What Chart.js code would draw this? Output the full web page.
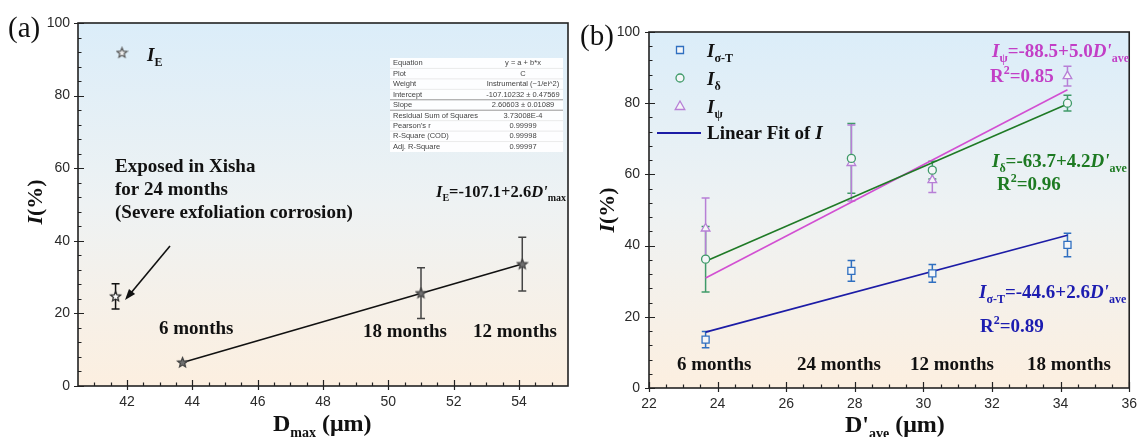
<!DOCTYPE html>
<html><head><meta charset="utf-8">
<script src="https://cdn.jsdelivr.net/npm/chart.js@4.4.1/dist/chart.umd.min.js"></script>
<style>
html,body{margin:0;padding:0;background:#fff;}
body{width:1145px;height:437px;overflow:hidden;position:relative;}
canvas{position:absolute;top:0;}
#ca{left:0;}
#cb{left:575px;}
</style></head>
<body>
<canvas id="ca" width="575" height="437"></canvas>
<canvas id="cb" width="570" height="437"></canvas>
<script>
// ---------- Panel (a) data ----------
const aMonths = ['24 months', '6 months', '18 months', '12 months'];
const aDmax = [41.65, 43.7, 51.0, 54.1];
const aIE = [24.7, 6.5, 25.6, 33.6];
const aErr = [3.5, 0, 7.0, 7.4];
const aFitX = [43.7, 54.1];
const aFitY = [6.5, 33.6];
const aXTicks = [42, 44, 46, 48, 50, 52, 54];
const aYTicks = [0, 20, 40, 60, 80, 100];
const aTableRows = [
  ['Equation', 'y = a + b*x'],
  ['Plot', 'C'],
  ['Weight', 'Instrumental (~1/ei^2)'],
  ['Intercept', '-107.10232 \u00b1 0.47569'],
  ['Slope', '2.60603 \u00b1 0.01089'],
  ['Residual Sum of Squares', '3.73008E-4'],
  ["Pearson's r", '0.99999'],
  ['R-Square (COD)', '0.99998'],
  ['Adj. R-Square', '0.99997']
];

// ---------- Panel (b) data ----------
const bMonths = ['6 months', '24 months', '12 months', '18 months'];
const bDave = [23.65, 27.9, 30.26, 34.2];
const bSigmaT = [13.6, 32.9, 32.2, 40.2];
const bSigmaTErr = [2.3, 2.9, 2.5, 3.3];
const bDelta = [36.2, 64.5, 61.2, 80.0];
const bDeltaErr = [9.2, 9.8, 2.5, 2.2];
const bPsi = [44.8, 63.2, 58.4, 87.6];
const bPsiErr = [8.6, 10.7, 3.5, 2.8];
const bFitX = [23.65, 34.2];
const bFitSigmaT = [15.7, 42.9];
const bFitDelta = [35.6, 79.8];
const bFitPsi = [30.9, 83.8];
const bXTicks = [22, 24, 26, 28, 30, 32, 34, 36];
const bYTicks = [0, 20, 40, 60, 80, 100];

// ---------- styling ----------
const SERIF = '"Liberation Serif","Times New Roman",serif';
const SANS = '"Liberation Sans",Arial,sans-serif';
const B = n => `bold ${n}px ${SERIF}`;
const BI = n => `italic bold ${n}px ${SERIF}`;
const C_SIG = '#2f6fc0', C_SIG_FIT = '#1c1ca6', C_SIG_TXT = '#1c1cb0';
const C_DEL = '#3f9a68', C_DEL_FIT = '#1f7a26', C_DEL_TXT = '#1d7a22';
const C_PSI = '#b77fd6', C_PSI_FIT = '#d24fd2', C_PSI_TXT = '#c23fc6';

function pts(xs, ys) { return xs.map((x, i) => ({x: x, y: ys[i]})); }

function starCanvas(fill, stroke) {
  const c = document.createElement('canvas');
  c.width = 13; c.height = 13;
  const g = c.getContext('2d');
  g.beginPath();
  for (let i = 0; i < 10; i++) {
    const r = i % 2 === 0 ? 5.2 : 2.3;
    const a = -Math.PI / 2 + i * Math.PI / 5;
    const px = 6.5 + r * Math.cos(a), py = 6.8 + r * Math.sin(a);
    if (i === 0) g.moveTo(px, py); else g.lineTo(px, py);
  }
  g.closePath();
  g.fillStyle = fill; g.fill();
  g.lineWidth = 1.2; g.strokeStyle = stroke; g.stroke();
  return c;
}
const starOpen = starCanvas('#ffffff', '#222');
const starGrey = starCanvas('#707070', '#404040');
const starLegend = starCanvas('#f0f0f0', '#555');

function richText(ctx, x, y, segs, color, align) {
  ctx.save();
  ctx.textBaseline = 'alphabetic';
  ctx.textAlign = 'left';
  let w = 0;
  segs.forEach(s => { ctx.font = s[1]; w += ctx.measureText(s[0]).width; });
  let cx = align === 'center' ? x - w / 2 : x;
  ctx.fillStyle = color || '#111';
  segs.forEach(s => { ctx.font = s[1]; ctx.fillText(s[0], cx, y + (s[2] || 0)); cx += ctx.measureText(s[0]).width; });
  ctx.restore();
  return w;
}

function drawBackground(chart) {
  const {ctx, chartArea: a} = chart;
  ctx.save();
  ctx.fillStyle = '#fff';
  ctx.fillRect(0, 0, chart.width, chart.height);
  const g = ctx.createLinearGradient(0, a.top, 0, a.bottom);
  g.addColorStop(0, '#dbedf9');
  g.addColorStop(0.5, '#eef2f3');
  g.addColorStop(1, '#fcefe0');
  ctx.fillStyle = g;
  ctx.fillRect(a.left, a.top, a.right - a.left, a.bottom - a.top);
  ctx.restore();
}

function drawFrame(chart, xMajor, yMajor, xMinorStep, yMinorStep) {
  const {ctx, chartArea: a, scales: {x, y}} = chart;
  ctx.save();
  ctx.strokeStyle = '#222';
  ctx.lineWidth = 1.2;
  ctx.beginPath();
  xMajor.forEach(v => { const px = Math.round(x.getPixelForValue(v)) + 0.5; ctx.moveTo(px, a.bottom + 4); ctx.lineTo(px, a.bottom - 6); });
  yMajor.forEach(v => { const py = Math.round(y.getPixelForValue(v)) + 0.5; ctx.moveTo(a.left - 4, py); ctx.lineTo(a.left + 6, py); });
  const xs = Math.ceil(x.min / xMinorStep) * xMinorStep;
  for (let v = xs; v < x.max - 1e-6; v += xMinorStep) {
    if (v <= x.min + 1e-6 || xMajor.some(m => Math.abs(m - v) < 1e-6)) continue;
    const px = Math.round(x.getPixelForValue(v)) + 0.5; ctx.moveTo(px, a.bottom); ctx.lineTo(px, a.bottom - 3.5);
  }
  for (let v = y.min + yMinorStep; v < y.max - 1e-6; v += yMinorStep) {
    if (yMajor.some(m => Math.abs(m - v) < 1e-6)) continue;
    const py = Math.round(y.getPixelForValue(v)) + 0.5; ctx.moveTo(a.left, py); ctx.lineTo(a.left + 3.5, py);
  }
  ctx.stroke();
  ctx.lineWidth = 1.6;
  ctx.strokeRect(a.left, a.top, a.right - a.left, a.bottom - a.top);
  ctx.restore();
}

function drawErrBars(chart, xs, ys, errs, color, half, lw) {
  const {ctx, scales: {x, y}} = chart;
  ctx.save();
  ctx.strokeStyle = color; ctx.lineWidth = lw || 1.4;
  xs.forEach((xv, i) => {
    const e = errs[i];
    if (!e) return;
    const px = x.getPixelForValue(xv);
    const t = y.getPixelForValue(ys[i] + e), b = y.getPixelForValue(ys[i] - e);
    ctx.beginPath();
    ctx.moveTo(px, t); ctx.lineTo(px, b);
    ctx.moveTo(px - half, t); ctx.lineTo(px + half, t);
    ctx.moveTo(px - half, b); ctx.lineTo(px + half, b);
    ctx.stroke();
  });
  ctx.restore();
}

function scaleCommon(min, max, ticksArr, sizeProp, size, pad) {
  return {
    type: 'linear', min: min, max: max,
    afterBuildTicks: s => { s.ticks = ticksArr.map(v => ({value: v})); },
    grid: {display: false, drawTicks: false},
    border: {display: false},
    ticks: {font: {family: SANS, size: 14}, color: '#2a2a2a', padding: pad, callback: v => String(v)},
    afterFit: s => { s[sizeProp] = size; }
  };
}

// ---------- Panel (a) ----------
const pluginA = {
  id: 'pa',
  beforeDraw: c => drawBackground(c),
  beforeDatasetsDraw: c => {
    drawErrBars(c, aDmax.slice(0, 1), aIE.slice(0, 1), aErr.slice(0, 1), '#111', 4, 1.5);
    drawErrBars(c, aDmax.slice(1), aIE.slice(1), aErr.slice(1), '#444', 4, 1.5);
  },
  afterDraw: c => {
    const ctx = c.ctx;
    drawFrame(c, aXTicks, aYTicks, 0.5, 4);
    // panel label
    ctx.save(); ctx.font = `29px ${SERIF}`; ctx.fillStyle = '#111'; ctx.fillText('(a)', 8, 37); ctx.restore();
    // legend
    ctx.drawImage(starLegend, 122 - 6.5, 53 - 6.8);
    richText(ctx, 147, 61, [['I', BI(19)], ['E', B(12), 5]]);
    // stats table
    ctx.save();
    ctx.fillStyle = 'rgba(255,255,255,0.93)';
    ctx.fillRect(390, 58, 173, 94);
    const rh = 94 / aTableRows.length;
    ctx.strokeStyle = '#e2e2e2'; ctx.lineWidth = 0.7;
    for (let i = 1; i < aTableRows.length; i++) {
      ctx.beginPath(); ctx.moveTo(390, 58 + i * rh); ctx.lineTo(563, 58 + i * rh); ctx.stroke();
    }
    ctx.strokeStyle = '#8a8a8a'; ctx.lineWidth = 0.8;
    [4, 5].forEach(i => { ctx.beginPath(); ctx.moveTo(390, 58 + i * rh); ctx.lineTo(563, 58 + i * rh); ctx.stroke(); });
    ctx.font = `7.5px ${SANS}`; ctx.fillStyle = '#444'; ctx.textBaseline = 'middle';
    aTableRows.forEach((r, i) => {
      const yy = 58 + (i + 0.5) * rh;
      ctx.textAlign = 'left'; ctx.fillText(r[0], 393, yy);
      ctx.textAlign = 'center'; ctx.fillText(r[1], 523, yy);
    });
    ctx.restore();
    // equation
    richText(ctx, 436, 197, [['I', BI(16.5)], ['E', B(10), 4], ['=-107.1+2.6', B(16.5)], ["D'", BI(16.5)], ['max', B(10), 4]]);
    // Exposed text
    ['Exposed in Xisha', 'for 24 months', '(Severe exfoliation corrosion)'].forEach((t, i) => richText(ctx, 115, 172 + i * 23, [[t, B(19)]]));
    // arrow
    ctx.save();
    ctx.strokeStyle = '#111'; ctx.fillStyle = '#111'; ctx.lineWidth = 1.6;
    const x0 = 170, y0 = 246, x1 = 125, y1 = 300;
    const ang = Math.atan2(y1 - y0, x1 - x0);
    ctx.beginPath(); ctx.moveTo(x0, y0); ctx.lineTo(x1 - 6 * Math.cos(ang), y1 - 6 * Math.sin(ang)); ctx.stroke();
    ctx.beginPath();
    ctx.moveTo(x1, y1);
    ctx.lineTo(x1 - 11 * Math.cos(ang) + 4 * Math.sin(ang), y1 - 11 * Math.sin(ang) - 4 * Math.cos(ang));
    ctx.lineTo(x1 - 11 * Math.cos(ang) - 4 * Math.sin(ang), y1 - 11 * Math.sin(ang) + 4 * Math.cos(ang));
    ctx.closePath(); ctx.fill();
    ctx.restore();
    // month labels
    richText(ctx, 159, 334, [[aMonths[1], B(19)]]);
    richText(ctx, 363, 337, [[aMonths[2], B(19)]]);
    richText(ctx, 473, 337, [[aMonths[3], B(19)]]);
    // axis titles
    ctx.save(); ctx.translate(35, 202); ctx.rotate(-Math.PI / 2);
    richText(ctx, 0, 7, [['I', BI(22)], ['(%)', B(22)]], '#111', 'center');
    ctx.restore();
    richText(ctx, 273, 431, [['D', B(24)], ['max', B(14), 6], [' (\u03bcm)', B(24)]]);
  }
};

new Chart(document.getElementById('ca'), {
  type: 'scatter',
  data: {
    datasets: [
      {
        data: pts(aDmax, aIE),
        pointStyle: [starOpen, starGrey, starGrey, starGrey],
        pointRadius: 6
      },
      {
        type: 'line',
        data: pts(aFitX, aFitY),
        borderColor: '#111', borderWidth: 1.6,
        pointRadius: 0, fill: false, showLine: true
      }
    ]
  },
  options: {
    responsive: false, animation: false, events: [],
    layout: {padding: {top: 23, right: 5, left: 0, bottom: 0}},
    plugins: {legend: {display: false}, tooltip: {enabled: false}},
    scales: {
      x: scaleCommon(40.5, 55.5, aXTicks, 'height', 51, 8),
      y: scaleCommon(0, 100, aYTicks, 'width', 78, 8)
    }
  },
  plugins: [pluginA]
});

// ---------- Panel (b) ----------
function mark(ctx, style, x, y, color) {
  ctx.save();
  ctx.strokeStyle = color; ctx.fillStyle = '#f4f6f8'; ctx.lineWidth = 1.3;
  ctx.beginPath();
  if (style === 'rect') ctx.rect(x - 3.5, y - 3.5, 7, 7);
  else if (style === 'circle') ctx.arc(x, y, 4, 0, Math.PI * 2);
  else { ctx.moveTo(x, y - 5); ctx.lineTo(x + 4.8, y + 3.5); ctx.lineTo(x - 4.8, y + 3.5); ctx.closePath(); }
  ctx.fill(); ctx.stroke();
  ctx.restore();
}

const pluginB = {
  id: 'pb',
  beforeDraw: c => drawBackground(c),
  beforeDatasetsDraw: c => {
    drawErrBars(c, bDave, bDelta, bDeltaErr, C_DEL, 4, 1.5);
    drawErrBars(c, bDave, bPsi, bPsiErr, C_PSI, 4, 1.5);
    drawErrBars(c, bDave, bSigmaT, bSigmaTErr, C_SIG, 3.8, 1.5);
  },
  afterDraw: c => {
    const ctx = c.ctx;
    drawFrame(c, bXTicks, bYTicks, 0.5, 4);
    ctx.save(); ctx.font = `29px ${SERIF}`; ctx.fillStyle = '#111'; ctx.fillText('(b)', 5, 45); ctx.restore();
    // legend
    mark(ctx, 'rect', 105, 50, C_SIG);
    mark(ctx, 'circle', 105, 78, C_DEL);
    mark(ctx, 'tri', 105, 106, C_PSI);
    richText(ctx, 132, 57, [['I', BI(19)], ['\u03c3-T', B(12), 5]]);
    richText(ctx, 132, 85, [['I', BI(19)], ['\u03b4', B(12), 5]]);
    richText(ctx, 132, 113, [['I', BI(19)], ['\u03c8', B(12), 5]]);
    ctx.save(); ctx.strokeStyle = C_SIG_FIT; ctx.lineWidth = 1.8;
    ctx.beginPath(); ctx.moveTo(82, 133); ctx.lineTo(126, 133); ctx.stroke(); ctx.restore();
    richText(ctx, 132, 139, [['Linear Fit of ', B(19)], ['I', BI(19)]]);
    // equations
    richText(ctx, 417, 57, [['I', BI(19)], ['\u03c8', B(12), 5], ['=-88.5+5.0', B(19)], ["D'", BI(19)], ['ave', B(12), 5]], C_PSI_TXT);
    richText(ctx, 415, 82, [['R', B(19)], ['2', B(12), -8], ['=0.85', B(19)]], C_PSI_TXT);
    richText(ctx, 417, 167, [['I', BI(19)], ['\u03b4', B(12), 5], ['=-63.7+4.2', B(19)], ["D'", BI(19)], ['ave', B(12), 5]], C_DEL_TXT);
    richText(ctx, 422, 190, [['R', B(19)], ['2', B(12), -8], ['=0.96', B(19)]], C_DEL_TXT);
    richText(ctx, 404, 298, [['I', BI(19)], ['\u03c3-T', B(12), 5], ['=-44.6+2.6', B(19)], ["D'", BI(19)], ['ave', B(12), 5]], C_SIG_TXT);
    richText(ctx, 405, 332, [['R', B(19)], ['2', B(12), -8], ['=0.89', B(19)]], C_SIG_TXT);
    // months
    [102, 222, 335, 452].forEach((x, i) => richText(ctx, x, 370, [[bMonths[i], B(19)]]));
    // axis titles
    ctx.save(); ctx.translate(32, 210); ctx.rotate(-Math.PI / 2);
    richText(ctx, 0, 7, [['I', BI(22)], ['(%)', B(22)]], '#111', 'center');
    ctx.restore();
    richText(ctx, 270, 432, [["D'", B(24)], ['ave', B(14), 6], [' (\u03bcm)', B(24)]]);
  }
};

const markerCommon = {backgroundColor: '#f4f6f8', borderWidth: 1.3, showLine: false};
new Chart(document.getElementById('cb'), {
  type: 'scatter',
  data: {
    datasets: [
      Object.assign({data: pts(bDave, bSigmaT), pointStyle: 'rect', pointRadius: 5, borderColor: C_SIG}, markerCommon),
      Object.assign({data: pts(bDave, bDelta), pointStyle: 'circle', pointRadius: 4, borderColor: C_DEL}, markerCommon),
      Object.assign({data: pts(bDave, bPsi), pointStyle: 'triangle', pointRadius: 5, borderColor: C_PSI}, markerCommon),
      {type: 'line', data: pts(bFitX, bFitSigmaT), borderColor: C_SIG_FIT, borderWidth: 1.6, pointRadius: 0, fill: false},
      {type: 'line', data: pts(bFitX, bFitDelta), borderColor: C_DEL_FIT, borderWidth: 1.6, pointRadius: 0, fill: false},
      {type: 'line', data: pts(bFitX, bFitPsi), borderColor: C_PSI_FIT, borderWidth: 1.6, pointRadius: 0, fill: false}
    ]
  },
  options: {
    responsive: false, animation: false, events: [],
    layout: {padding: {top: 32, right: 11, left: 0, bottom: 0}},
    plugins: {legend: {display: false}, tooltip: {enabled: false}},
    scales: {
      x: scaleCommon(22, 36, bXTicks, 'height', 49, 8),
      y: scaleCommon(0, 100, bYTicks, 'width', 74, 9)
    }
  },
  plugins: [pluginB]
});
</script>
</body></html>
